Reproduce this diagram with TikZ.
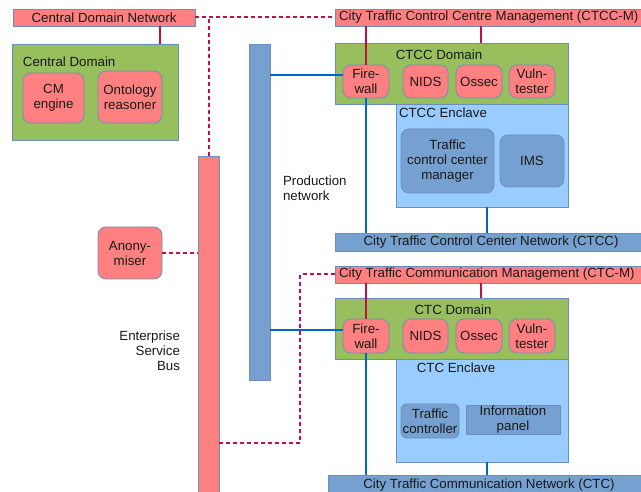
\documentclass[tikz,border=0pt]{standalone}
\usepackage{fontspec}
\setmainfont{Liberation Sans}
\definecolor{pinkc}{RGB}{255,128,128}
\definecolor{bordc}{RGB}{108,142,191}
\definecolor{greenc}{RGB}{151,191,94}
\definecolor{lightb}{RGB}{153,204,255}
\definecolor{darkb}{RGB}{117,160,208}
\definecolor{crim}{RGB}{192,16,72}
\definecolor{netc}{RGB}{0,102,204}
\begin{document}
\begin{tikzpicture}[x=1pt,y=-1pt,
  every node/.style={font=\fontsize{13.3}{15}\selectfont, inner sep=0pt, outer sep=0pt, text=black!90},
  box/.style={draw=bordc, line width=0.8pt, rectangle},
  pinkbox/.style={box, fill=pinkc},
  pinkr/.style={box, fill=pinkc, rounded corners=8pt, align=center},
  greenbox/.style={box, fill=greenc},
  encl/.style={box, fill=lightb},
  bluebox/.style={box, fill=darkb, align=center},
  bluer/.style={box, fill=darkb, rounded corners=8pt, align=center},
  mgmt/.style={draw=crim, line width=2pt},
  dashl/.style={draw=crim, line width=2pt, dash pattern=on 4pt off 3pt},
  netl/.style={draw=netc, line width=2pt}]
\useasboundingbox (0,0) rectangle (641,492);
\clip (0,0) rectangle (641,492);
\fill[white] (0,0) rectangle (641,492);

% coordinates for connector positions
\coordinate (x160) at (160,0);
\coordinate (x481) at (481,0);
\coordinate (x487) at (487,0);
\coordinate (y75) at (0,75);
\coordinate (y330) at (0,330);
\coordinate (d1) at (300,443);
\coordinate (d2) at (300,274.5);

% central area
\node[pinkbox, minimum width=182pt, minimum height=17pt] (cdn) at (104,17.5) {Central Domain Network};
\node[greenbox, minimum width=166pt, minimum height=96pt] (cdom) at (95,92) {};
\node[anchor=west] (cdomt) at (23,62) {Central Domain};
\node[pinkr, minimum width=61pt, minimum height=50pt] (cm) at (53.5,98) {CM\\engine};
\node[pinkr, minimum width=64pt, minimum height=52pt] (onto) at (130,97) {Ontology\\reasoner};

% buses
\node[pinkbox, minimum width=21pt, minimum height=360pt] (esb) at (208.5,336) {};
\node[bluebox, minimum width=21pt, minimum height=336pt] (prod) at (259.5,212) {};
\node[align=right, anchor=east] (esbt) at (180,351) {Enterprise\\Service\\Bus};
\node[align=left, anchor=west] (prodt) at (283,188) {Production\\network};
\node[pinkr, minimum width=64pt, minimum height=52pt] (anon) at (130,253) {Anony-\\miser};

% CTCC
\node[pinkbox, minimum width=320pt, minimum height=17pt] (ctccm) at (495,17.5) {};
\node[anchor=west] (ctccmt) at (339,17.5) {City Traffic Control Centre Management (CTCC-M)};
\node[greenbox, minimum width=233pt, minimum height=61pt] (ctccdom) at (451.5,73.5) {};
\node (ctccdomt) at (439,55) {CTCC Domain};
\node[encl, minimum width=172pt, minimum height=103pt] (ctccencl) at (482,155.5) {};
\node[anchor=west] (ctccenclt) at (399,113) {CTCC Enclave};
\node[pinkr, minimum width=46pt, minimum height=33pt] (fw1) at (366,81.5) {Fire-\\wall};
\node[pinkr, minimum width=45pt, minimum height=33pt] (nids1) at (425.5,81.5) {NIDS};
\node[pinkr, minimum width=46pt, minimum height=33pt] (ossec1) at (479,81.5) {Ossec};
\node[pinkr, minimum width=46pt, minimum height=33pt] (vuln1) at (532,81.5) {Vuln-\\tester};
\node[bluer, minimum width=93pt, minimum height=64pt] (tccm) at (447.5,161) {Traffic\\control center\\manager};
\node[bluer, minimum width=64pt, minimum height=52pt] (ims) at (532,161) {IMS};
\node[bluebox, minimum width=320pt, minimum height=18pt] (ctccnet) at (495,242) {};
\node (ctccnett) at (491,242) {City Traffic Control Center Network (CTCC)};

% CTC
\node[pinkbox, minimum width=320pt, minimum height=17pt] (ctcm) at (495,274.5) {};
\node[anchor=west] (ctcmt) at (339,274.5) {City Traffic Communication Management (CTC-M)};
\node[greenbox, minimum width=233pt, minimum height=61pt] (ctcdom) at (451.5,328.5) {};
\node (ctcdomt) at (453,310) {CTC Domain};
\node[encl, minimum width=172pt, minimum height=103pt] (ctcencl) at (482,410.5) {};
\node (ctcenclt) at (456,368) {CTC Enclave};
\node[pinkr, minimum width=46pt, minimum height=34pt] (fw2) at (366,336) {Fire-\\wall};
\node[pinkr, minimum width=45pt, minimum height=34pt] (nids2) at (425.5,336) {NIDS};
\node[pinkr, minimum width=46pt, minimum height=34pt] (ossec2) at (479,336) {Ossec};
\node[pinkr, minimum width=46pt, minimum height=34pt] (vuln2) at (532,336) {Vuln-\\tester};
\node[bluer, rounded corners=6pt, minimum width=58pt, minimum height=34pt] (tc) at (430,421) {Traffic\\controller};
\node[bluebox, minimum width=94pt, minimum height=29pt] (ip) at (513,419.5) {Information\\panel};
\node[bluebox, minimum width=330pt, minimum height=26pt] (ctcnet) at (493,488) {};
\node (ctcnett) at (489,485) {City Traffic Communication Network (CTC)};

% management connectors
\draw[mgmt] (cdn.south -| x160) -- (cdom.north -| x160);
\draw[mgmt] (ctccm.south -| fw1.north) -- (fw1.north);
\draw[mgmt] (ctccm.south -| x481) -- (ctccdom.north -| x481);
\draw[mgmt] (ctcm.south -| fw2.north) -- (fw2.north);
\draw[mgmt] (ctcm.south -| x481) -- (ctcdom.north -| x481);

% dashed ESB connectors
\draw[dashl] (cdn.east) -- (ctccm.west);
\draw[dashl] (esb.north) -- (esb.north |- cdn.east);
\draw[dashl] (anon.east) -- (esb.west |- anon.east);
\draw[dashl] (esb.east |- d1) -- (d1) -- (d2) -- (ctcm.west);

% production network connectors
\draw[netl] (prod.east |- y75) -- (fw1.west |- y75);
\draw[netl] (prod.east |- y330) -- (fw2.west |- y330);
\draw[netl] (fw1.south) -- (fw1.south |- ctccnet.north);
\draw[netl] (ctccencl.south -| x487) -- (ctccnet.north -| x487);
\draw[netl] (fw2.south) -- (fw2.south |- ctcnet.north);
\draw[netl] (ctcencl.south -| x487) -- (ctcnet.north -| x487);
\end{tikzpicture}
\end{document}
